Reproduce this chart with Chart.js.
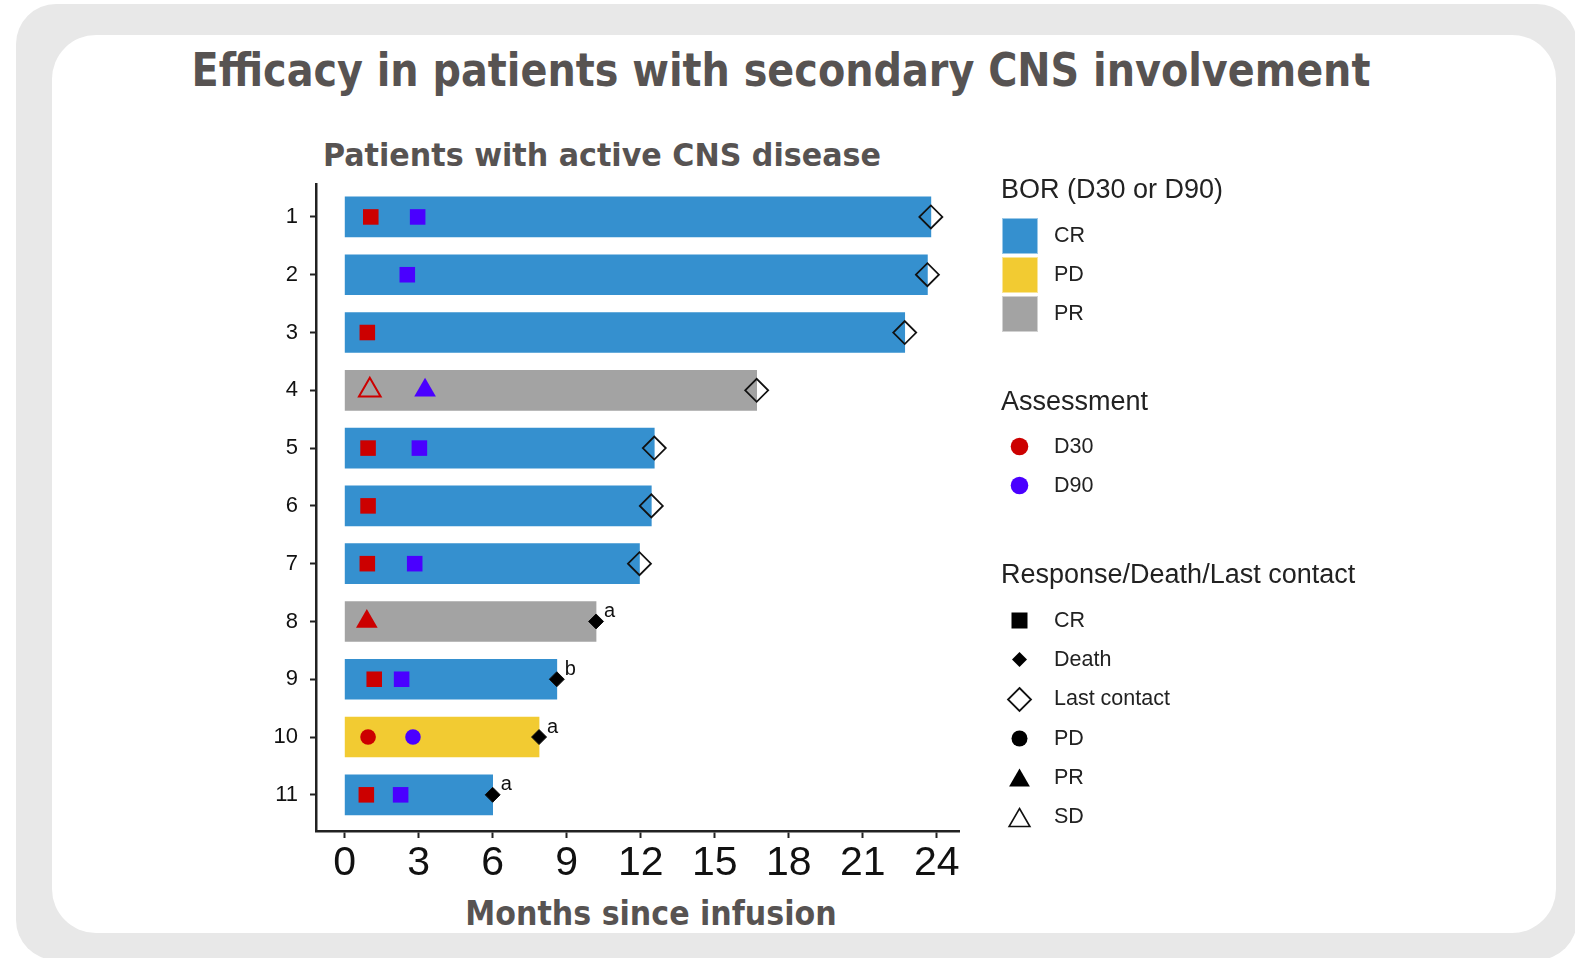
<!DOCTYPE html>
<html>
<head>
<meta charset="utf-8">
<title>Efficacy in patients with secondary CNS involvement</title>
<script src="https://cdn.jsdelivr.net/npm/chart.js@4.4.1/dist/chart.umd.min.js"></script>
<style>
  html, body { margin: 0; padding: 0; background: #fff; }
  #page { position: relative; width: 1575px; height: 958px; overflow: hidden; font-family: 'Liberation Sans', Arial, sans-serif; }
  .outer { position: absolute; left: 16px; top: 4px; width: 1561px; height: 956px; border-radius: 40px; background: #e8e8e8; }
  .inner { position: absolute; left: 52px; top: 35px; width: 1504px; height: 898px; border-radius: 44px; background: #fff; }
  #chart { position: absolute; left: 0; top: 0; }
  .heading { position: absolute; white-space: nowrap; line-height: 1; font-family: 'DejaVu Sans Condensed', 'DejaVu Sans', sans-serif; font-stretch: condensed; font-weight: bold; color: #575352; }
  .leg-title { position: absolute; left: 1001px; font-size: 27px; line-height: 1; color: #222; white-space: nowrap; }
  .leg-rows { position: absolute; left: 1001px; }
  .leg-row { display: flex; align-items: center; height: 39.3px; }
  .leg-key { width: 37px; height: 39.3px; display: flex; align-items: center; justify-content: center; }
  .leg-label { margin-left: 16px; font-size: 21.5px; line-height: 1; color: #222; white-space: nowrap; }
</style>
</head>
<body>
<div id="page">
  <div class="outer"></div>
  <div class="inner"></div>

  <div class="heading" data-cx="781" data-width="1179" style="top:46px; font-size:47px;">Efficacy in patients with secondary CNS involvement</div>
  <div class="heading" data-cx="602" data-width="558" style="top:139px; font-size:32.5px;">Patients with active CNS disease</div>
  <div class="heading" data-cx="651" data-width="371" style="top:896px; font-size:34px;">Months since infusion</div>

  <canvas id="chart" width="1575" height="958"></canvas>

  <div class="leg-title" style="top:176px;">BOR (D30 or D90)</div>
  <div class="leg-rows" id="leg-bor" style="top:216px;"></div>
  <div class="leg-title" style="top:388px;">Assessment</div>
  <div class="leg-rows" id="leg-assess" style="top:427px;"></div>
  <div class="leg-title" style="top:561px;">Response/Death/Last contact</div>
  <div class="leg-rows" id="leg-resp" style="top:601px;"></div>
</div>

<script>
// swimmer plot data, one entry per patient
const patients = [1, 2, 3, 4, 5, 6, 7, 8, 9, 10, 11];
const bestResponse = ['CR', 'CR', 'CR', 'PR', 'CR', 'CR', 'CR', 'PR', 'CR', 'PD', 'CR'];
const followUpMonths = [23.76, 23.62, 22.7, 16.7, 12.55, 12.43, 11.95, 10.19, 8.6, 7.88, 6.0];
const endEvent = ['Last contact', 'Last contact', 'Last contact', 'Last contact', 'Last contact',
                  'Last contact', 'Last contact', 'Death', 'Death', 'Death', 'Death'];
const endNote = ['', '', '', '', '', '', '', 'a', 'b', 'a', 'a'];

const d30Months = [1.06, null, 0.92, 1.02, 0.95, 0.95, 0.92, 0.9, 1.2, 0.95, 0.88];
const d30Response = ['CR', null, 'CR', 'SD', 'CR', 'CR', 'CR', 'PR', 'CR', 'PD', 'CR'];
const d90Months = [2.96, 2.54, null, 3.26, 3.03, null, 2.84, null, 2.31, 2.77, 2.27];
const d90Response = ['CR', 'CR', null, 'PR', 'CR', null, 'CR', null, 'CR', 'PD', 'CR'];

const xTicks = [0, 3, 6, 9, 12, 15, 18, 21, 24];

const borLegend = ['CR', 'PD', 'PR'];
const assessmentLegend = ['D30', 'D90'];
const responseLegend = ['CR', 'Death', 'Last contact', 'PD', 'PR', 'SD'];

const borColors = { CR: '#3590cf', PD: '#f2cb32', PR: '#a3a3a3' };
const assessColors = { D30: '#cc0000', D90: '#4a00ff' };

function markerFor(resp) {
    switch (resp) {
        case 'CR': return { style: 'rect', radius: 11, open: false };
        case 'PR': return { style: 'triangle', radius: 12.5, open: false };
        case 'SD': return { style: 'triangle', radius: 12.5, open: true };
        case 'PD': return { style: 'circle', radius: 7.8, open: false };
    }
    return { style: 'circle', radius: 0, open: false };
}

function assessmentDataset(label, months, responses) {
    const color = assessColors[label];
    return {
        type: 'scatter',
        label: label,
        data: patients.map((p, i) => ({ x: months[i], y: p, resp: responses[i] })).filter(d => d.x !== null),
        pointStyle: c => markerFor(c.raw.resp).style,
        pointRadius: c => markerFor(c.raw.resp).radius,
        pointBackgroundColor: c => markerFor(c.raw.resp).open ? 'rgba(0,0,0,0)' : color,
        pointBorderColor: color,
        pointBorderWidth: c => markerFor(c.raw.resp).open ? 2 : 0,
        clip: false,
        order: 1
    };
}

const endNotesPlugin = {
    id: 'endNotes',
    afterDatasetsDraw(chart) {
        const { ctx, scales: { x, y } } = chart;
        ctx.save();
        ctx.font = '20px "Liberation Sans", Arial, sans-serif';
        ctx.fillStyle = '#111';
        ctx.textAlign = 'left';
        ctx.textBaseline = 'alphabetic';
        endNote.forEach((note, i) => {
            if (!note) return;
            ctx.fillText(note, x.getPixelForValue(followUpMonths[i]) + 8, y.getPixelForValue(patients[i]) - 4.5);
        });
        ctx.restore();
    }
};

const axisGrid = { display: true, offset: false, drawOnChartArea: false, drawTicks: true, tickLength: 7, tickWidth: 2, tickColor: '#222' };
const axisBorder = { display: true, color: '#222', width: 2.5 };

new Chart(document.getElementById('chart'), {
    type: 'bar',
    data: {
        datasets: [
            assessmentDataset('D30', d30Months, d30Response),
            assessmentDataset('D90', d90Months, d90Response),
            {
                type: 'scatter',
                label: 'End',
                data: patients.map((p, i) => ({ x: followUpMonths[i], y: p, event: endEvent[i] })),
                pointStyle: 'rectRot',
                pointRadius: c => c.raw.event === 'Death' ? 7.5 : 11.5,
                pointBackgroundColor: c => c.raw.event === 'Death' ? '#000' : 'rgba(0,0,0,0)',
                pointBorderColor: '#111',
                pointBorderWidth: c => c.raw.event === 'Death' ? 1 : 1.8,
                clip: false,
                order: 0
            },
            {
                type: 'bar',
                label: 'BOR',
                indexAxis: 'y',
                data: patients.map((p, i) => ({ x: [0, followUpMonths[i]], y: p })),
                backgroundColor: bestResponse.map(b => borColors[b]),
                borderWidth: 0,
                barThickness: 40,
                order: 2
            }
        ]
    },
    options: {
        responsive: false,
        animation: false,
        layout: { padding: { left: 250, right: 616, top: 184, bottom: 67 } },
        plugins: { legend: { display: false }, tooltip: { enabled: false } },
        scales: {
            x: {
                type: 'linear',
                offset: false,
                min: -1.16,
                max: 24.9,
                afterBuildTicks: s => { s.ticks = xTicks.map(v => ({ value: v })); },
                afterFit: s => { s.height = 60; },
                grid: axisGrid,
                border: axisBorder,
                ticks: { autoSkip: false, maxRotation: 0, color: '#111', padding: 1,
                         font: { family: "'Liberation Sans', Arial, sans-serif", size: 41 } }
            },
            y: {
                type: 'linear',
                offset: false,
                reverse: true,
                min: 0.43,
                max: 11.626,
                afterBuildTicks: s => { s.ticks = patients.map(v => ({ value: v })); },
                afterFit: s => { s.width = 66; },
                grid: Object.assign({}, axisGrid, { tickLength: 6 }),
                border: axisBorder,
                ticks: { autoSkip: false, color: '#111', padding: 12,
                         font: { family: "'Liberation Sans', Arial, sans-serif", size: 22 } }
            }
        }
    },
    plugins: [endNotesPlugin]
});

// headings: squeeze to the measured width, centred on data-cx
document.querySelectorAll('.heading').forEach(el => {
    const k = Number(el.dataset.width) / el.offsetWidth;
    el.style.left = el.dataset.cx + 'px';
    el.style.transform = 'translateX(-50%) scaleX(' + k + ')';
});

// legend keys
function svgKey(inner) {
    return '<svg width="37" height="37" viewBox="-18.5 -18.5 37 37">' + inner + '</svg>';
}
function triPath(r) {
    const h = r * 1.5, w = r * Math.sqrt(3) / 2;
    return 'M0,' + (-h / 2) + ' L' + w + ',' + (h / 2) + ' L' + (-w) + ',' + (h / 2) + ' Z';
}
const responseKeys = {
    'CR': svgKey('<rect x="-8" y="-8" width="16" height="16" fill="#000"/>'),
    'Death': svgKey('<path d="M0,-7.5 L7.5,0 L0,7.5 L-7.5,0 Z" fill="#000"/>'),
    'Last contact': svgKey('<path d="M0,-11.5 L11.5,0 L0,11.5 L-11.5,0 Z" fill="none" stroke="#111" stroke-width="1.8"/>'),
    'PD': svgKey('<circle r="8" fill="#000"/>'),
    'PR': svgKey('<path d="' + triPath(12) + '" fill="#000"/>'),
    'SD': svgKey('<path d="' + triPath(12) + '" fill="none" stroke="#111" stroke-width="1.6"/>')
};

function fillLegend(id, items, keyHtml) {
    const box = document.getElementById(id);
    items.forEach(item => {
        const row = document.createElement('div');
        row.className = 'leg-row';
        row.innerHTML = '<div class="leg-key">' + keyHtml(item) + '</div><div class="leg-label">' + item + '</div>';
        box.appendChild(row);
    });
}

fillLegend('leg-bor', borLegend, b =>
    '<div style="width:36px;height:36px;box-sizing:border-box;border:1px solid rgba(255,255,255,0.5);background:' + borColors[b] + '"></div>');
fillLegend('leg-assess', assessmentLegend, a => svgKey('<circle r="8.8" fill="' + assessColors[a] + '"/>'));
fillLegend('leg-resp', responseLegend, r => responseKeys[r]);
</script>
</body>
</html>
